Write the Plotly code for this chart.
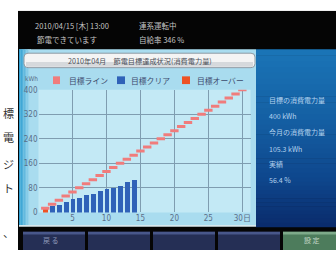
import plotly.graph_objects as go

W, H = 336, 255

# ---- data ----
days = [1, 2, 3, 4, 5, 6, 7, 8, 9, 10, 11, 12, 13, 14]
consumption_kwh = [14, 21, 26, 35, 43, 48, 56, 62, 71, 76, 80, 86, 99, 105.3]
target_days = list(range(1, 31))
target_kwh = [13.3, 26.7, 40.0, 53.3, 66.7, 80.0, 93.3, 106.7, 120.0, 133.3,
              146.7, 160.0, 173.3, 186.7, 200.0, 213.3, 226.7, 240.0, 253.3, 266.7,
              280.0, 293.3, 306.7, 320.0, 333.3, 346.7, 360.0, 373.3, 386.7, 400.0]
x_tick_vals = [0, 5, 10, 15, 20, 25, 30]
x_tick_text = ["", "5", "10", "15", "20", "25", "30日"]
y_tick_vals = [0, 80, 160, 240, 320, 400]
legend_labels = ["目標ライン", "目標クリア", "目標オーバー"]
status_lines = ["2010/04/15 [木] 13:00", "連系運転中", "節電できています", "自給率 346 %"]
title_text = "2010年04月　節電目標達成状況(消費電力量)"
side_labels = ["目標の消費電力量", "400 kWh", "今月の消費電力量", "105.3 kWh", "実績", "56.4 %"]
page_fragments = ["標", "電", "ジ", "ト", "、"]

PINK = "#f07c7c"
BLUE = "#2f62b8"
ORANGE = "#ee5224"

bar_colors = [ORANGE if c > t else BLUE for c, t in zip(consumption_kwh, target_kwh)]

fig = go.Figure()
fig.add_trace(go.Bar(x=days, y=consumption_kwh, width=0.72,
                     marker=dict(color=bar_colors, line=dict(width=0)),
                     hoverinfo="skip"))
fig.add_trace(go.Scatter(x=target_days, y=target_kwh, mode="markers",
                         marker=dict(symbol="line-ew", size=6,
                                     line=dict(width=3, color=PINK), color=PINK),
                         hoverinfo="skip"))


def fx(px):
    return px / W


def fy(py):
    return 1 - py / H


shapes = []


def rect(x0, y0, x1, y1, color, layer="below", line=None):
    shapes.append(dict(type="rect", xref="paper", yref="paper",
                       x0=fx(x0), x1=fx(x1), y0=fy(y1), y1=fy(y0),
                       fillcolor=color, layer=layer,
                       line=line if line else dict(width=0)))


def hexmix(c1, c2, t):
    a = [int(c1[i:i + 2], 16) for i in (1, 3, 5)]
    b = [int(c2[i:i + 2], 16) for i in (1, 3, 5)]
    return "#" + "".join("%02x" % round(a[k] + (b[k] - a[k]) * t) for k in range(3))


# screen body
rect(18, 7, 336, 255, "#050505")
# light chart panel
rect(19, 47, 256, 230, "#a9dcef")
for i in range(8):
    rect(19 + i * 1.5, 47, 20.5 + i * 1.5, 230, hexmix("#2f9fd2", "#a9dcef", i / 7))
rect(19, 229, 256, 231, "#d8e8ee")
# right info panel gradient
stops = [(47, "#1a74b6"), (120, "#145ea2"), (180, "#0e468c"), (231, "#0a2a6a")]
for j in range(len(stops) - 1):
    (ya, ca), (yb, cb) = stops[j], stops[j + 1]
    n = 12
    for k in range(n):
        y0 = ya + (yb - ya) * k / n
        y1 = ya + (yb - ya) * (k + 1) / n + 0.5
        rect(256, y0, 336, y1, hexmix(ca, cb, k / n))
# title bar
r = 4
x0b, x1b, y0b, y1b = 24, 255, 51, 66
path = (f"M {fx(x0b + r)},{fy(y0b)} L {fx(x1b - r)},{fy(y0b)} "
        f"Q {fx(x1b)},{fy(y0b)} {fx(x1b)},{fy(y0b + r)} L {fx(x1b)},{fy(y1b - r)} "
        f"Q {fx(x1b)},{fy(y1b)} {fx(x1b - r)},{fy(y1b)} L {fx(x0b + r)},{fy(y1b)} "
        f"Q {fx(x0b)},{fy(y1b)} {fx(x0b)},{fy(y1b - r)} L {fx(x0b)},{fy(y0b + r)} "
        f"Q {fx(x0b)},{fy(y0b)} {fx(x0b + r)},{fy(y0b)} Z")
shapes.append(dict(type="path", path=path, xref="paper", yref="paper",
                   fillcolor="#f4f4f4", line=dict(color="#8e9aa4", width=1), layer="below"))
rect(26, 60, 253, 65, "#d6d9dc")
# plot area background
rect(38.5, 89, 250.5, 216, "#c3e9f5")
# legend swatches
rect(53, 75, 60, 83, PINK)
rect(117, 75, 125, 83, BLUE)
rect(182, 75, 190, 83, ORANGE)
# buttons
btns = [(23, 85), (88, 150), (153, 215), (218, 280)]
for a, b in btns:
    rect(a, 236, b, 255, "#252f55")
    rect(a, 236, b, 239, "#48578a")
rect(283, 236, 340, 255, "#4d7c5c")
rect(283, 236, 340, 239, "#7eaa8a")
# left page white area
rect(0, 0, 18, 255, "#ffffff")
rect(0, 0, 336, 7, "#ffffff")

ann = []


def text(x, y, s, size, color, anchor="left", family="Noto Sans CJK JP"):
    ann.append(dict(x=fx(x), y=fy(y), xref="paper", yref="paper", text=s,
                    showarrow=False, xanchor=anchor, yanchor="middle",
                    font=dict(size=size, color=color, family=family)))


GRAY = "#c4c4c4"
text(33, 22, status_lines[0], 7.5, GRAY)
text(137, 22, status_lines[1], 7.5, GRAY)
text(35, 37, status_lines[2], 7.5, GRAY)
text(137, 37, status_lines[3], 7.5, GRAY)
text(140, 59.5, title_text, 7.2, "#4a4f58", anchor="center")
LEG = "#3c4a6c"
text(67, 79, legend_labels[0], 7.8, LEG)
text(129, 79, legend_labels[1], 7.8, LEG)
text(195, 79, legend_labels[2], 7.8, LEG)
text(31, 78, "kWh", 6.5, "#5a6e88", anchor="center", family="DejaVu Sans Condensed")
SIDE = "#b4d2ee"
for s, yy in zip(side_labels, [100, 116, 133, 150, 166, 182]):
    text(267, yy, s, 7, SIDE)
text(51, 245, "戻 る", 7, "#8e98b8", anchor="center")
text(312, 245, "設 定", 7, "#c4d8c8", anchor="center")
# page text fragments at left
for s, yy in zip(page_fragments, [113, 138, 166, 191, 236]):
    text(8, yy, s, 11, "#333333", anchor="center", family="Noto Sans CJK JP")

TICK = dict(size=8, color="#5a6e88", family="DejaVu Sans Condensed, Noto Sans CJK JP")
GRID = "#7f9db0"

fig.update_layout(
    width=W, height=H, autosize=False,
    margin=dict(l=0, r=0, t=0, b=0),
    paper_bgcolor="#ffffff", plot_bgcolor="rgba(0,0,0,0)",
    showlegend=False, bargap=0,
    shapes=shapes, annotations=ann,
    xaxis=dict(domain=[fx(38.5), fx(250.5)], range=[0, 31.2],
               tickmode="array", tickvals=x_tick_vals, ticktext=x_tick_text,
               showgrid=True, gridcolor=GRID, gridwidth=1, zeroline=False,
               showline=False, ticks="", tickfont=TICK, fixedrange=True),
    yaxis=dict(domain=[fy(216), fy(89)], range=[0, 400],
               tickmode="array", tickvals=y_tick_vals,
               showgrid=True, gridcolor=GRID, gridwidth=1, zeroline=False,
               showline=False, ticks="", tickfont=TICK, fixedrange=True),
)

fig.write_html("out.html", config={"displayModeBar": False},
               post_script="document.body.style.margin='0';document.body.style.overflow='hidden';")
